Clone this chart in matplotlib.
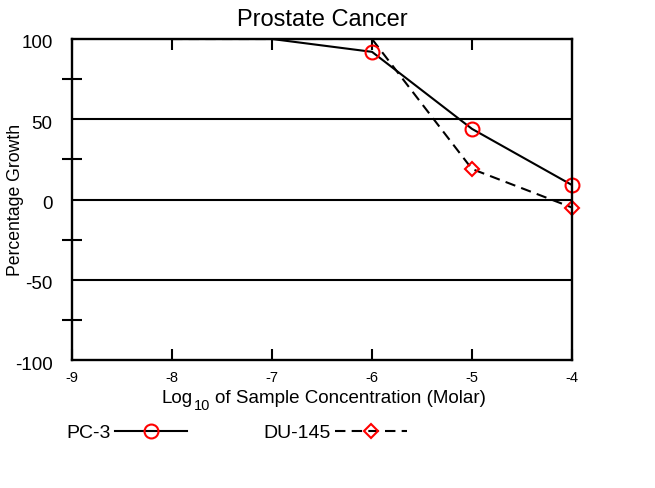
import matplotlib
matplotlib.use("Agg")
import matplotlib.pyplot as plt
import matplotlib.transforms as mtransforms
from matplotlib.lines import Line2D

plt.rcParams['font.family'] = ['Liberation Sans', 'DejaVu Sans']

x_pc3 = [-8, -7, -6, -5, -4]
y_pc3 = [100, 100, 92, 44, 9]
x_du = [-8, -7, -6, -5, -4]
y_du = [100, 100, 100, 19, -5]
pc3_marker_x = [-6, -5, -4]
pc3_marker_y = [92, 44, 9]
du_marker_x = [-5, -4]
du_marker_y = [19, -5]
x_ticks = [-9, -8, -7, -6, -5, -4]
y_ticks = [-100, -50, 0, 50, 100]

W, H = 655, 488
fig = plt.figure(figsize=(W/100, H/100), dpi=100)
ax = fig.add_axes([72/W, 1-360/H, 500/W, 321/H])

ax.plot(x_pc3, y_pc3, color='black', lw=1.5)
ax.plot(x_du, y_du, color='black', lw=1.5, ls=(0, (5, 3)))
ax.plot(pc3_marker_x, pc3_marker_y, ls='none', marker='o', ms=10, mfc='none', mec='red', mew=1.5, clip_on=False)
ax.plot(du_marker_x, du_marker_y, ls='none', marker='D', ms=7.5, mfc='none', mec='red', mew=1.5, clip_on=False)

ax.set_xlim(-9, -4)
ax.set_ylim(-100, 100)
for yv in [-50, 0, 50]:
    ax.axhline(yv, color='black', lw=1.5)
for s in ax.spines.values():
    s.set_linewidth(1.7)

ax.set_xticks(x_ticks)
ax.set_xticklabels([str(v) for v in x_ticks], fontsize=10.5)
ax.set_yticks(y_ticks)
ax.set_yticklabels([str(v) for v in y_ticks], fontsize=13.5)
ax.tick_params(axis='x', direction='in', length=8, width=1.5, top=True, pad=8)
ax.tick_params(axis='y', length=0, pad=14)
ax.set_yticks([-75, -25, 25, 75], minor=True)
ax.tick_params(axis='y', which='minor', direction='inout', length=14, width=1.5)
off = mtransforms.ScaledTranslation(0, -3/100, fig.dpi_scale_trans)
for lab in ax.get_yticklabels():
    lab.set_transform(lab.get_transform() + off)

ax.set_title('Prostate Cancer', fontsize=17, pad=9)
ax.set_ylabel('Percentage Growth', fontsize=12.7)
ax.yaxis.set_label_coords((24 - 72) / 500, 0.5)

# x label with a lowered subscript
ident = mtransforms.IdentityTransform()
renderer = fig.canvas.get_renderer()
t1 = fig.text(0, 0, 'Log', fontsize=13.5, transform=ident, va='baseline')
t2 = fig.text(0, 0, '10', fontsize=10.5, transform=ident, va='baseline')
t3 = fig.text(0, 0, 'of Sample Concentration (Molar)', fontsize=13.5, transform=ident, va='baseline')
w1 = t1.get_window_extent(renderer).width
w2 = t2.get_window_extent(renderer).width
w3 = t3.get_window_extent(renderer).width
gap1, gap2 = 1, 5
total = w1 + gap1 + w2 + gap2 + w3
x0 = 324 - total / 2
base = H - 403
t1.set_position((x0, base))
t2.set_position((x0 + w1 + gap1, base - 7))
t3.set_position((x0 + w1 + gap1 + w2 + gap2, base))

h1 = Line2D([0], [0], color='black', lw=1.5, marker='o', ms=10, mfc='none', mec='red', mew=1.5)
h2 = Line2D([0], [0], color='black', lw=1.5, ls=(0, (5, 3)), marker='D', ms=7.5, mfc='none', mec='red', mew=1.5)
fig.legend([h1, h2], ['PC-3', 'DU-145'], loc='center left', bbox_to_anchor=(66/W, 1-433/H),
           ncol=2, frameon=False, fontsize=14, markerfirst=False, handlelength=3.7,
           columnspacing=3.9, handletextpad=0.25, borderpad=0, borderaxespad=0)

fig.savefig('out.png', dpi=100)
